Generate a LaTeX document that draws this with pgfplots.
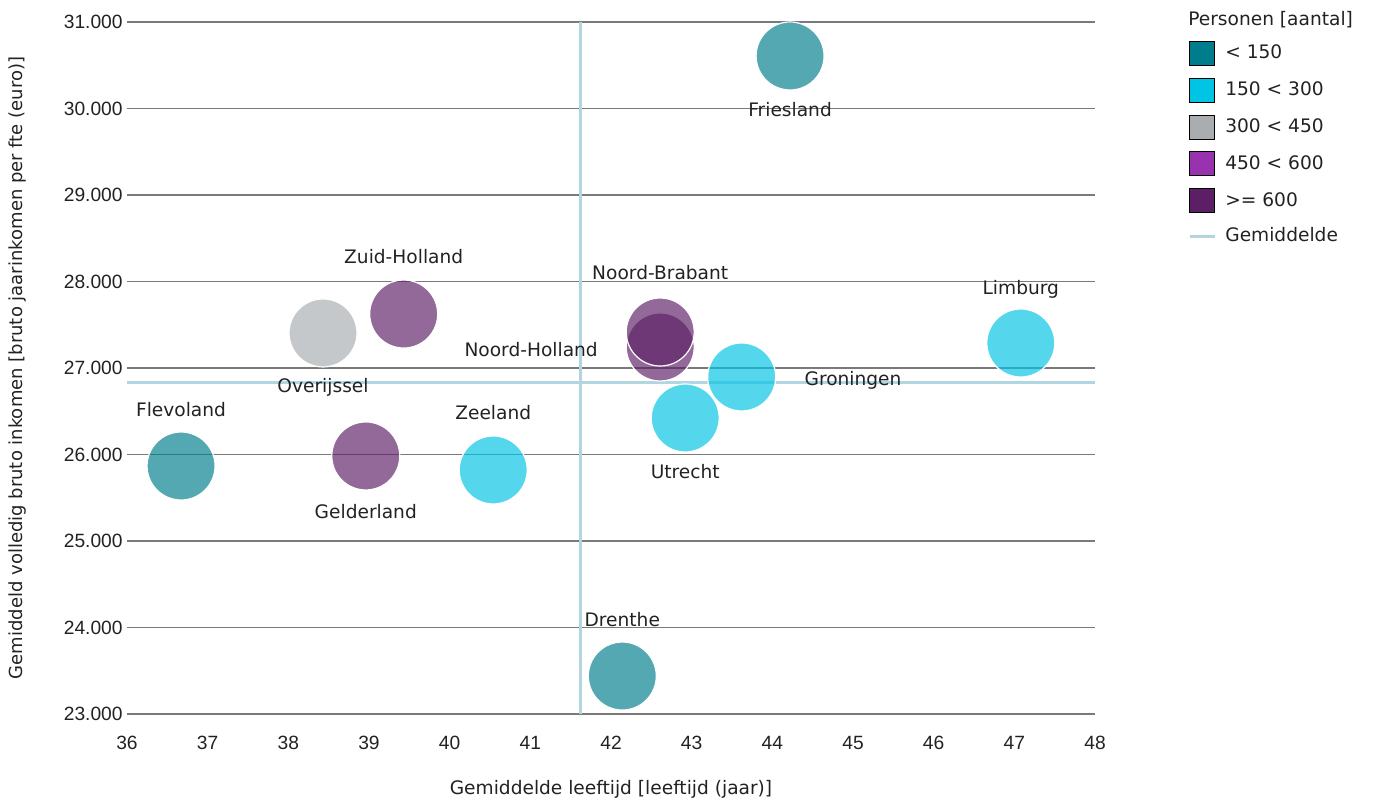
\documentclass[border=0pt]{standalone}
\usepackage{fontspec}
\setmainfont{DejaVu Sans}
\newfontfamily\tickfont{Liberation Sans}
\usepackage{pgfplots}
\pgfplotsset{compat=1.18}
\definecolor{cteal}{HTML}{007D8C}
\definecolor{ccyan}{HTML}{00C4E4}
\definecolor{cgray}{HTML}{A9ADB0}
\definecolor{cpurp}{HTML}{9932AF}
\definecolor{cdark}{HTML}{5C1F66}
\definecolor{cavg}{HTML}{B2D5E2}
\definecolor{cgrid}{HTML}{7A7A7A}
\definecolor{ctext}{HTML}{222222}
\pgfplotsset{
  sqleg/.style={legend image code/.code={\fill[##1] (0pt,-6pt) rectangle (12.5pt,6pt);}},
  lnleg/.style={legend image code/.code={\path[draw=none,fill=none] (0pt,-5.5pt) rectangle (12.5pt,5.5pt); \draw[##1] (0pt,0pt) -- (12.5pt,0pt);}},
}
\begin{document}
\begin{tikzpicture}[font=\fontsize{9.3}{11}\selectfont]
\begin{axis}[
  at={(0,0)}, anchor=south west,
  scale only axis, width=484pt, height=346pt,
  xmin=36, xmax=48, ymin=23000, ymax=31000,
  xtick={36,37,...,48}, ytick={23000,24000,...,31000},
  axis line style={draw=none},
  major tick style={draw=none},
  ymajorgrids, major grid style={cgrid, line width=0.75pt},
  /pgf/number format/assume math mode=true,
  yticklabel style={/pgf/number format/.cd, fixed, 1000 sep={.}, precision=0, /tikz/.cd, anchor=east, inner sep=0pt, xshift=-2pt, text=ctext, font=\tickfont\fontsize{9.6}{11}\selectfont},
  scaled y ticks=false,
  xticklabel style={anchor=center, yshift=-14.5pt, text=ctext, font=\tickfont\fontsize{9.6}{11}\selectfont},
  xlabel={Gemiddelde leeftijd [leeftijd (jaar)]},
  ylabel={Gemiddeld volledig bruto inkomen [bruto jaarinkomen per fte (euro)]},
  every axis x label/.style={at={(axis description cs:0.5,0)}, anchor=center, yshift=-37.5pt, text=ctext},
  every axis y label/.style={at={(axis description cs:-0.1126,0.5)}, anchor=center, rotate=90, text=ctext, font=\fontsize{9}{11}\selectfont},
  clip=false,
  legend style={at={(1.096,0.973)}, anchor=north west, draw=none, fill=none,
    row sep=6pt, column sep=4.5pt, inner sep=0pt, text=ctext,
    nodes={inner sep=0pt, anchor=west}},
  legend cell align=left,
]
% average lines
\addplot[cavg, line width=1.5pt, forget plot] coordinates {(41.62,23000) (41.62,31000)};
\addplot[cavg, line width=1.5pt, forget plot] coordinates {(36,26838) (48,26838)};
% < 150
\addplot[only marks, mark=*, mark size=17pt, forget plot,
  mark options={fill=cteal, fill opacity=0.67, draw=white, line width=0.6pt}]
  coordinates {(44.22,30607) (36.67,25867) (42.14,23439)};
% 150 < 300
\addplot[only marks, mark=*, mark size=17pt, forget plot,
  mark options={fill=ccyan, fill opacity=0.67, draw=white, line width=0.6pt}]
  coordinates {(47.08,27289) (43.62,26896) (42.92,26422) (40.54,25821)};
% 300 < 450
\addplot[only marks, mark=*, mark size=17pt, forget plot,
  mark options={fill=cgray, fill opacity=0.67, draw=white, line width=0.6pt}]
  coordinates {(38.43,27405)};
% >= 600
\addplot[only marks, mark=*, mark size=17pt, forget plot,
  mark options={fill=cdark, fill opacity=0.67, draw=white, line width=0.6pt}]
  coordinates {(39.43,27624) (38.96,25983) (42.61,27243) (42.61,27416)};
% labels
\node[text=ctext] at (axis cs:44.22,29983) {Friesland};
\node[text=ctext] at (axis cs:39.43,28283) {Zuid-Holland};
\node[text=ctext] at (axis cs:38.43,26780) {Overijssel};
\node[text=ctext] at (axis cs:42.61,28098) {Noord-Brabant};
\node[text=ctext] at (axis cs:41.01,27208) {Noord-Holland};
\node[text=ctext] at (axis cs:47.08,27913) {Limburg};
\node[text=ctext] at (axis cs:45.00,26861) {Groningen};
\node[text=ctext] at (axis cs:42.92,25798) {Utrecht};
\node[text=ctext] at (axis cs:36.67,26514) {Flevoland};
\node[text=ctext] at (axis cs:38.96,25335) {Gelderland};
\node[text=ctext] at (axis cs:40.54,26480) {Zeeland};
\node[text=ctext] at (axis cs:42.14,24087) {Drenthe};
% legend
\node[anchor=west, inner sep=0pt, text=ctext] at (rel axis cs:1.096,1.0029) {Personen [aantal]};
\addlegendimage{fill=cteal, sqleg}
\addlegendentry{< 150}
\addlegendimage{fill=ccyan, sqleg}
\addlegendentry{150 < 300}
\addlegendimage{fill=cgray, sqleg}
\addlegendentry{300 < 450}
\addlegendimage{fill=cpurp, sqleg}
\addlegendentry{450 < 600}
\addlegendimage{fill=cdark, sqleg}
\addlegendentry{>= 600}
\addlegendimage{cavg, line width=1.5pt, lnleg}
\addlegendentry{Gemiddelde}
\end{axis}
\pgfresetboundingbox
\path (-63.5pt,-44pt) rectangle (626.5pt,357pt);
\end{tikzpicture}
\end{document}
